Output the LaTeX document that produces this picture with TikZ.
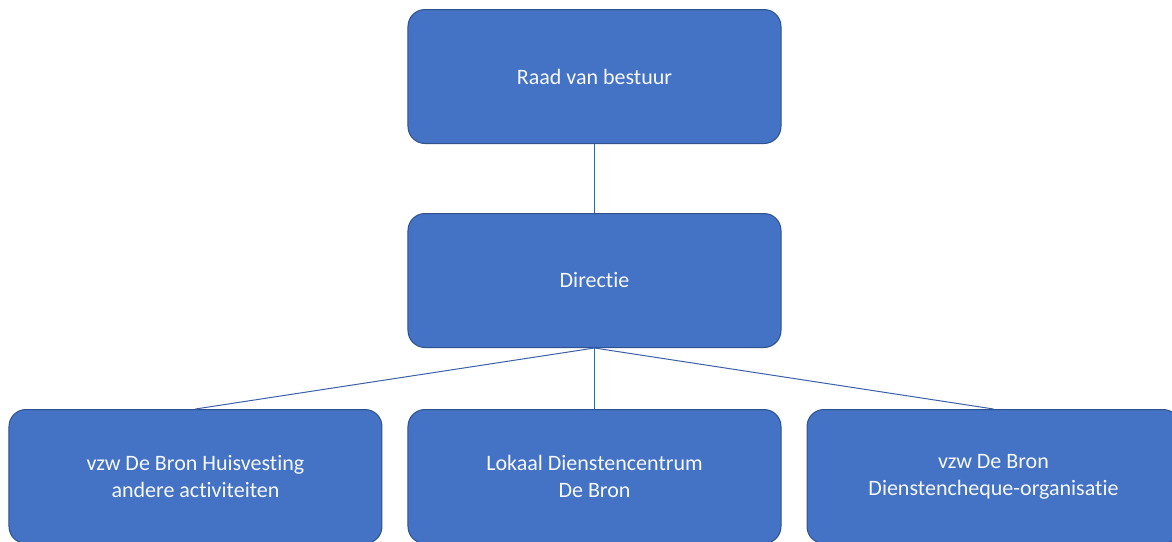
\documentclass[tikz,border=0pt]{standalone}
\usepackage{fontspec}
\setmainfont[Ligatures=NoCommon]{Carlito}
\usepackage{tikz}
\usetikzlibrary{%
  positioning
}
\definecolor{boxblue}{HTML}{4472C4}
\definecolor{boxedge}{HTML}{2F528F}
\tikzstyle{box}=[rectangle,rounded corners=8.5pt,fill=boxblue,draw=boxedge,
  line width=0.5pt,minimum width=186.5pt,minimum height=67pt,inner sep=2pt,
  align=center,text=white!95!boxblue,font=\fontsize{11}{13.5}\selectfont]

\begin{document}
\begin{tikzpicture}
    \node[box](board){Raad van bestuur};
    \node[box,below=34.5pt of board](dir){Directie};
    \node[box,below=30.5pt of dir](ldc){Lokaal Dienstencentrum\\De Bron};
    \node[box,left=12.5pt of ldc](house){vzw De Bron Huisvesting\\andere activiteiten};
    \node[box,right=12.5pt of ldc](cheque){vzw De Bron\\Dienstencheque-organisatie};
    %
    \tikzstyle{link}=[draw=boxblue!85!black,line width=0.5pt]
    \draw[link]
      (board) -- (dir)
      (dir.south) edge (house.north)
                  edge (ldc.north)
                  edge (cheque.north);

    \pgfresetboundingbox
    \path[use as bounding box]
      ([shift={(-297.25pt,38.25pt)}]board.center) rectangle
      ([shift={(288.75pt,-232.25pt)}]board.center);
\end{tikzpicture}
\end{document}
